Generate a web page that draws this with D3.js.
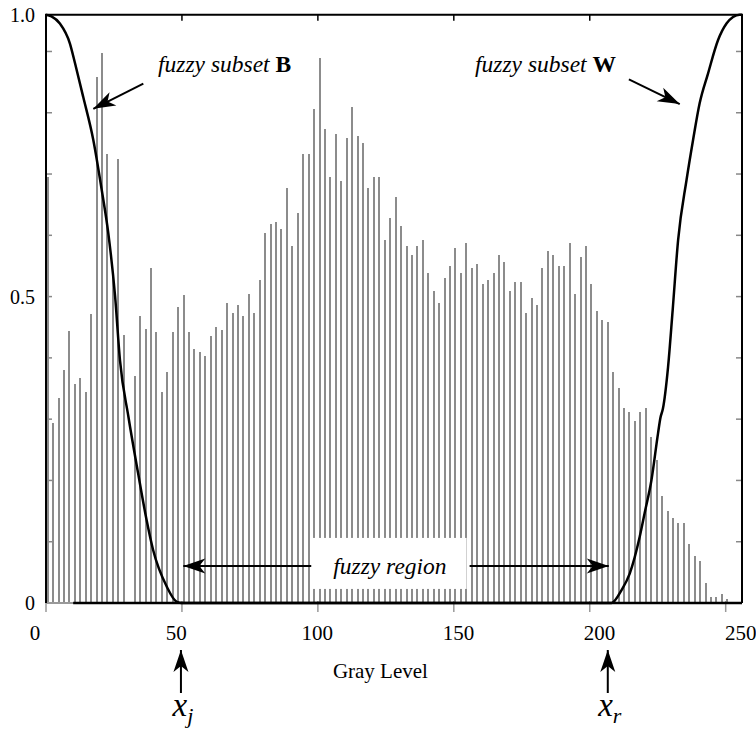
<!DOCTYPE html>
<html><head><meta charset="utf-8">
<script src="https://cdn.jsdelivr.net/npm/d3@7"></script>
<style>
html,body{margin:0;padding:0;background:#fff;}
svg{display:block;}
</style></head>
<body>
<svg id="chart" width="756" height="740" font-family="Liberation Serif"></svg>
<script>
// ---------- data ----------
const grayBins = d3.range(0, 256, 2);           // histogram bins (gray levels)
const histValues = [
 6.95,2.94,3.35,3.80,4.44,3.58,3.67,3.45,4.71,8.59,
 8.98,7.32,5.35,7.25,4.38,0.00,3.70,4.69,4.47,5.46,
 4.43,3.45,3.77,4.43,4.83,5.02,4.43,4.14,4.10,4.03,
 4.36,4.50,4.46,4.90,4.73,4.87,4.69,5.05,4.73,5.27,
 6.03,6.18,6.22,6.11,6.77,5.82,6.37,7.32,7.32,8.06,
 8.90,7.73,6.95,7.65,6.88,7.58,8.09,7.62,7.50,6.77,
 6.95,6.95,5.93,6.29,6.62,6.15,5.82,5.68,5.82,5.93,
 5.38,5.09,4.90,5.31,5.50,5.79,5.38,5.88,5.46,5.53,
 5.20,5.27,5.38,5.68,5.57,5.09,5.24,5.24,4.73,4.98,
 4.87,5.46,5.75,5.68,5.50,5.50,5.88,5.05,5.64,5.82,
 5.20,4.76,4.62,4.58,3.77,3.51,3.19,3.11,2.97,3.11,
 3.19,2.71,2.33,1.75,1.50,1.38,1.31,1.31,0.97,0.77,
 0.69,0.32,0.10,0.10,0.14,0.07,0.00,0.00
];
const histTicks = [1,2,3,4,5,6,7,8,9];
const yLabels = [{v:0,t:"0"},{v:5,t:"0.5"},{v:9.6,t:"1.0"}];
const xTickValues = [0,50,100,150,200,250];
const topTickValues = [50,100,150,200];

// membership function of fuzzy subset B  (gray, mu)
const curveB = [[0,1],[2,0.997],[5.1,0.985],[8.8,0.951],[10.7,0.917],[13.7,0.86],[17.4,0.787],
 [20.5,0.702],[22.9,0.629],[25.4,0.522],[27.2,0.413],[30.3,0.317],[33.9,0.22],[37,0.141],
 [39.4,0.09],[44.4,0.028],[48.1,0.002],[50,0],[256,0]];
// membership function of fuzzy subset W
const curveW = [[10,0],[208,0],[211.7,0.022],[214.7,0.05],[218.4,0.113],[220.2,0.153],[222.7,0.209],
 [225.1,0.288],[226,0.315],[226.9,0.33],[228.8,0.401],[230.5,0.498],[232.5,0.617],[235.6,0.719],
 [238,0.787],[240.4,0.849],[243.5,0.90],[247.2,0.957],[250.3,0.985],[252.7,0.996],[255.1,1.0],[256,1]];

const xj = 50, xr = 207;

// ---------- layout ----------
const svg = d3.select("#chart");
const L = 46, R = 742, T = 14.7, B = 603;
const x = d3.scaleLinear().domain([0,256]).range([L,R]);
const xLab = d3.scaleLinear().domain([0,250]).range([x(0)-11, x(250)+15]);
const yH = d3.scaleLinear().domain([0,9.6]).range([B,T]);
const yM = d3.scaleLinear().domain([0,1]).range([B,T]);

const defs = svg.append("defs");
defs.append("marker").attr("id","arr").attr("viewBox","-24 -9 26 18")
  .attr("refX",0).attr("refY",0).attr("markerWidth",26).attr("markerHeight",18)
  .attr("markerUnits","userSpaceOnUse").attr("orient","auto")
  .append("path").attr("d","M0,0 L-22,-7.5 L-16,0 L-22,7.5 Z").attr("fill","#000");

// bars
svg.append("g").attr("shape-rendering","crispEdges")
  .selectAll("rect").data(grayBins).join("rect")
  .attr("x", (b)=> Math.round(x(b+0.6))-1)
  .attr("width", 2)
  .attr("y", (b,i)=> yH(histValues[i]))
  .attr("height", (b,i)=> yH(0)-yH(histValues[i]))
  .attr("fill","#8c8c8c");

// ticks
const g = svg.append("g");
g.selectAll(".lt").data(histTicks).join("line")
  .attr("x1",L).attr("x2",L+6).attr("y1",d=>yH(d)).attr("y2",d=>yH(d))
  .attr("stroke","#888").attr("stroke-width",1.5);
g.selectAll(".rt").data(histTicks).join("line")
  .attr("x1",R-6).attr("x2",R).attr("y1",d=>yH(d)).attr("y2",d=>yH(d))
  .attr("stroke","#888").attr("stroke-width",1.5);
g.selectAll(".tt").data(topTickValues).join("line")
  .attr("x1",d=>x(d)).attr("x2",d=>x(d)).attr("y1",T).attr("y2",T+6)
  .attr("stroke","#000").attr("stroke-width",1.5);
g.selectAll(".bt").data(xTickValues).join("line")
  .attr("x1",d=>x(d)).attr("x2",d=>x(d)).attr("y1",B-2).attr("y2",B+9)
  .attr("stroke","#999").attr("stroke-width",1.5);

// frame
svg.append("line").attr("x1",L).attr("x2",R).attr("y1",B).attr("y2",B).attr("stroke","#999").attr("stroke-width",2);
svg.append("path").attr("d",`M${L},${B} V${T} H${R} V${B}`).attr("fill","none")
  .attr("stroke","#000").attr("stroke-width",2);

// membership curves
const line = d3.line().x(d=>x(d[0])).y(d=>yM(d[1])).curve(d3.curveMonotoneX);
[curveB, curveW].forEach(c=>{
  svg.append("path").attr("d", line(c)).attr("fill","none")
    .attr("stroke","#000").attr("stroke-width",2.5).attr("stroke-linejoin","round");
});

// axis labels
svg.append("g").selectAll("text").data(yLabels).join("text")
  .attr("x", L-11).attr("y", d=>yH(d.v)).attr("dy","0.35em")
  .attr("text-anchor","end").attr("font-size",20).text(d=>d.t);
svg.append("g").selectAll("text").data(xTickValues).join("text")
  .attr("x", d=>xLab(d)).attr("y", B+37)
  .attr("text-anchor","middle").attr("font-size",21).text(d=>d);
svg.append("text").attr("x", x(123)).attr("y", B+75)
  .attr("text-anchor","middle").attr("font-size",21).text("Gray Level");

// x_j, x_r arrows
[[xj,"j"],[xr,"r"]].forEach(([v,s])=>{
  svg.append("line").attr("x1",x(v)-1).attr("x2",x(v)-1).attr("y1",B+90).attr("y2",B+47)
    .attr("stroke","#000").attr("stroke-width",2).attr("marker-end","url(#arr)");
  const t = svg.append("text").attr("x",x(v)+1).attr("y",B+113).attr("text-anchor","middle")
    .attr("font-style","italic").attr("font-size",33);
  t.append("tspan").text("x");
  t.append("tspan").attr("font-size",22).attr("dy",7).text(s);
});

// fuzzy subset labels
function subsetLabel(gv, mv, letter){
  const t = svg.append("text").attr("x",x(gv)).attr("y",yM(mv)).attr("font-size",23.5);
  t.append("tspan").attr("font-style","italic").text("fuzzy subset ");
  t.append("tspan").attr("font-weight","bold").text(letter);
}
subsetLabel(41.2, 0.902, "B");
subsetLabel(157.8, 0.902, "W");
function arrow(g1,m1,g2,m2){
  svg.append("line").attr("x1",x(g1)).attr("y1",yM(m1)).attr("x2",x(g2)).attr("y2",yM(m2))
    .attr("stroke","#000").attr("stroke-width",2).attr("marker-end","url(#arr)");
}
arrow(35.8,0.883,17.4,0.840);
arrow(214.4,0.89,233.1,0.848);

// fuzzy region
const frY = yM(0.063);
const frBox = svg.append("rect").attr("fill","#fff");
const frText = svg.append("text").attr("x",x(126.5)).attr("y",frY).attr("dy","0.35em")
  .attr("text-anchor","middle").attr("font-style","italic").attr("font-size",23.5).text("fuzzy region");
const bb = frText.node().getBBox();
const bx0 = bb.x-22, bx1 = bb.x+bb.width+20;
frBox.attr("x",bx0).attr("y",frY-28).attr("width",bx1-bx0).attr("height",51);
svg.append("line").attr("x1",bx0).attr("x2",x(xj+0.5)).attr("y1",frY).attr("y2",frY)
  .attr("stroke","#000").attr("stroke-width",2).attr("marker-end","url(#arr)");
svg.append("line").attr("x1",bx1+3).attr("x2",x(xr)).attr("y1",frY).attr("y2",frY)
  .attr("stroke","#000").attr("stroke-width",2).attr("marker-end","url(#arr)");
</script>
</body></html>
